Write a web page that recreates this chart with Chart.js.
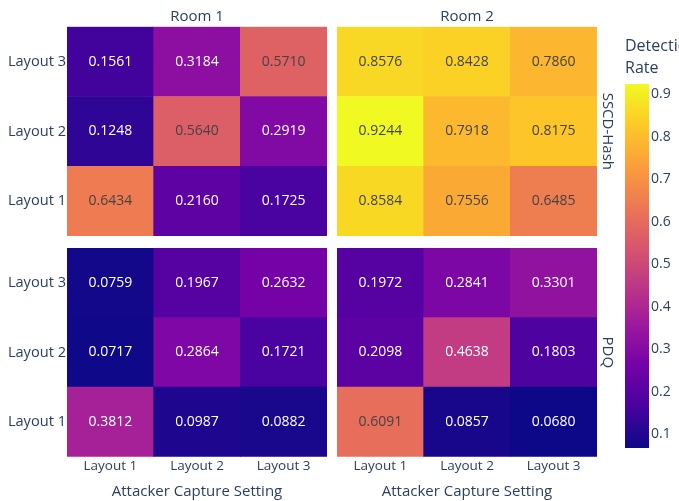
<!DOCTYPE html>
<html>
<head>
<meta charset="utf-8">
<script src="https://cdn.jsdelivr.net/npm/chart.js@4"></script>
<style>
  html, body { margin: 0; padding: 0; background: #fff; width: 679px; height: 501px; overflow: hidden; position: relative; }
  .box { position: absolute; }
  #cbTitle { position: absolute; left: 625px; top: 34px; font: 16px "Open Sans", sans-serif; color: #2a3f5f; line-height: 22px; white-space: nowrap; }
</style>
</head>
<body>
<div class="box" style="left:0;top:0;width:332px;height:240px"><canvas id="sscd1"></canvas></div>
<div class="box" style="left:332px;top:0;width:290px;height:240px"><canvas id="sscd2"></canvas></div>
<div class="box" style="left:0;top:242px;width:332px;height:259px"><canvas id="pdq1"></canvas></div>
<div class="box" style="left:332px;top:242px;width:290px;height:259px"><canvas id="pdq2"></canvas></div>
<div class="box" style="left:620px;top:78px;width:59px;height:376px"><canvas id="cbar"></canvas></div>
<div id="cbTitle">Detection<br>Rate</div>
<script>
// columns = attacker capture setting, rows = Layout 1..3 (bottom to top)
const colLabels = ['Layout 1', 'Layout 2', 'Layout 3'];
const rowLabels = ['Layout 1', 'Layout 2', 'Layout 3'];
const rowTicks = [1, 2, 3];
const xTitle = 'Attacker Capture Setting';

const sscdRoom1 = [
  [0.6434, 0.2160, 0.1725],
  [0.1248, 0.5640, 0.2919],
  [0.1561, 0.3184, 0.5710]
];
const sscdRoom2 = [
  [0.8584, 0.7556, 0.6485],
  [0.9244, 0.7918, 0.8175],
  [0.8576, 0.8428, 0.7860]
];
const pdqRoom1 = [
  [0.3812, 0.0987, 0.0882],
  [0.0717, 0.2864, 0.1721],
  [0.0759, 0.1967, 0.2632]
];
const pdqRoom2 = [
  [0.6091, 0.0857, 0.0680],
  [0.2098, 0.4638, 0.1803],
  [0.1972, 0.2841, 0.3301]
];

const zMin = 0.0680;
const zMax = 0.9244;
const cbTicks = [0.1, 0.2, 0.3, 0.4, 0.5, 0.6, 0.7, 0.8, 0.9];

const plasma = ['#0d0887', '#46039f', '#7201a8', '#9c179e', '#bd3786',
                '#d8576b', '#ed7953', '#fb9f3a', '#fdca26', '#f0f921'];

Chart.defaults.font.family = '"Open Sans", sans-serif';
Chart.defaults.font.size = 14;
Chart.defaults.color = '#2a3f5f';
Chart.defaults.animation = false;

function hexRgb(h) {
  return [1, 3, 5].map(i => parseInt(h.substr(i, 2), 16));
}
const plasmaRgb = plasma.map(hexRgb);

function rgbFor(v) {
  let t = (v - zMin) / (zMax - zMin);
  t = Math.max(0, Math.min(1, t)) * (plasmaRgb.length - 1);
  const i = Math.min(Math.floor(t), plasmaRgb.length - 2);
  const f = t - i;
  return plasmaRgb[i].map((c, k) => Math.round(c + (plasmaRgb[i + 1][k] - c) * f));
}
function colorFor(v) {
  const c = rgbFor(v);
  return `rgb(${c[0]},${c[1]},${c[2]})`;
}
function isLight(v) {
  const c = rgbFor(v);
  return (c[0] * 299 + c[1] * 587 + c[2] * 114) / 1000 >= 128;
}

// writes each cell's value in the middle of its bar
const cellText = {
  id: 'cellText',
  afterDatasetsDraw(chart) {
    const ctx = chart.ctx;
    ctx.save();
    ctx.font = '14px "Open Sans", sans-serif';
    ctx.textAlign = 'center';
    ctx.textBaseline = 'middle';
    chart.data.datasets.forEach((ds, i) => {
      chart.getDatasetMeta(i).data.forEach((bar, j) => {
        const v = ds.values[j];
        ctx.fillStyle = isLight(v) ? '#444' : '#fff';
        ctx.fillText(v.toFixed(4), bar.x, (bar.y + bar.base) / 2);
      });
    });
    ctx.restore();
  }
};

// fixed axis size (only when shown), and no extra room kept for end labels
const fixSize = (prop, size) => s => {
  if (s.options.display) s[prop] = size;
  s.paddingTop = 0;
  s.paddingBottom = 0;
};

function panel(id, rows, opt) {
  const datasets = rows.map((vals, r) => ({
    data: vals.map(() => [r + 0.5, r + 1.5]),
    values: vals,
    backgroundColor: vals.map(colorFor),
    borderWidth: 0,
    barPercentage: 1,
    categoryPercentage: 1,
    grouped: false
  }));

  const scales = {
    x: {
      type: 'category',
      labels: colLabels,
      position: 'bottom',
      display: !!opt.bottom,
      grid: { display: false, drawTicks: false },
      border: { display: false },
      ticks: { padding: 1, font: { size: 13.5 }, maxRotation: 0 },
      title: { display: true, text: xTitle, font: { size: 15 }, padding: { top: 0, bottom: 0 } },
      afterFit: fixSize('height', 44.3)
    },
    y: {
      type: 'linear',
      min: 0.5,
      max: 3.5,
      display: !!opt.left,
      grid: { display: false, drawTicks: false },
      border: { display: false },
      afterBuildTicks: s => { s.ticks = rowTicks.map(v => ({ value: v })); },
      ticks: { padding: 1, font: { size: 14.6 }, callback: v => rowLabels[v - 1] },
      afterFit: fixSize('width', 67)
    }
  };
  if (opt.top) {
    scales.xTop = {
      type: 'category',
      labels: colLabels,
      position: 'top',
      grid: { display: false, drawTicks: false },
      border: { display: false },
      ticks: { display: false },
      title: { display: true, text: opt.top, font: { size: 15 }, padding: { top: 7.4, bottom: 0 } },
      afterFit: fixSize('height', 26.7)
    };
  }
  if (opt.right) {
    scales.yRight = {
      type: 'linear',
      position: 'right',
      min: 0.5,
      max: 3.5,
      grid: { display: false, drawTicks: false },
      border: { display: false },
      ticks: { display: false },
      title: { display: true, text: opt.right, font: { size: 15 }, padding: { top: 6, bottom: 0 } },
      afterFit: fixSize('width', 25)
    };
  }

  return new Chart(document.getElementById(id), {
    type: 'bar',
    data: { labels: colLabels, datasets: datasets },
    options: {
      responsive: true,
      maintainAspectRatio: false,
      layout: { padding: opt.padding },
      plugins: { legend: { display: false }, tooltip: { enabled: false } },
      scales: scales
    },
    plugins: [cellText]
  });
}

panel('sscd1', sscdRoom1, { left: true, top: 'Room 1', padding: { right: 5, bottom: 4 } });
panel('sscd2', sscdRoom2, { top: 'Room 2', right: 'SSCD-Hash', padding: { left: 5, bottom: 4 } });
panel('pdq1', pdqRoom1, { left: true, bottom: true, padding: { right: 5, top: 6 } });
panel('pdq2', pdqRoom2, { bottom: true, right: 'PDQ', padding: { left: 5, top: 6 } });

// colour bar
new Chart(document.getElementById('cbar'), {
  type: 'bar',
  data: {
    labels: [''],
    datasets: [{
      data: [[zMin, zMax]],
      borderWidth: 0,
      barPercentage: 1,
      categoryPercentage: 1,
      backgroundColor: ctx => {
        const chart = ctx.chart;
        if (!chart.chartArea) return plasma[0];
        const ys = chart.scales.y;
        const g = chart.ctx.createLinearGradient(0, ys.getPixelForValue(zMin), 0, ys.getPixelForValue(zMax));
        plasma.forEach((c, i) => g.addColorStop(i / (plasma.length - 1), c));
        return g;
      }
    }]
  },
  options: {
    responsive: true,
    maintainAspectRatio: false,
    layout: { padding: { left: 5, top: 6, bottom: 6 } },
    plugins: { legend: { display: false }, tooltip: { enabled: false } },
    scales: {
      x: { display: false },
      y: {
        type: 'linear',
        position: 'right',
        min: zMin,
        max: zMax,
        grid: { display: false, drawTicks: false },
        border: { display: false },
        afterBuildTicks: s => { s.ticks = cbTicks.map(v => ({ value: v })); },
        ticks: { padding: 2, callback: v => v.toFixed(1) },
        afterFit: fixSize('width', 30)
      }
    }
  }
});
</script>
</body>
</html>
